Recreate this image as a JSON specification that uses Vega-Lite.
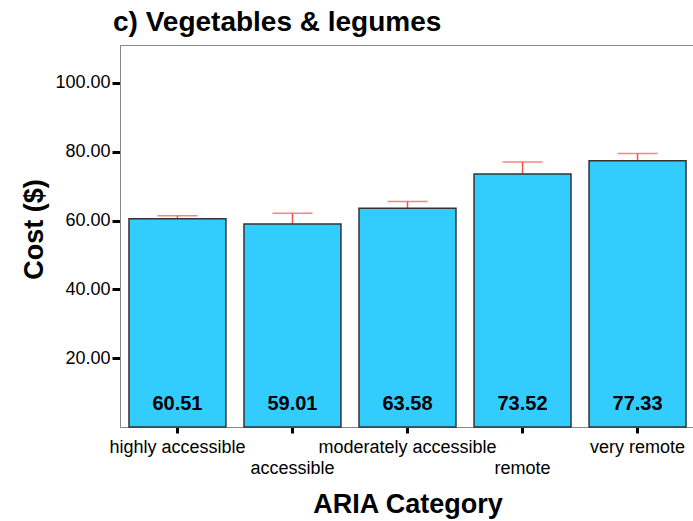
{
  "$schema": "https://vega.github.io/schema/vega-lite/v6.json",
  "autosize": "none",
  "width": 575,
  "height": 382,
  "padding": {"left": 120, "top": 45, "right": 0, "bottom": 94},
  "background": "white",
  "config": {
    "font": "Liberation Sans",
    "view": {"stroke": "#888888", "strokeWidth": 1}
  },
  "title": {
    "text": "c) Vegetables & legumes",
    "font": "Liberation Sans",
    "fontSize": 28,
    "fontWeight": "bold",
    "anchor": "start",
    "frame": "group",
    "dx": -7,
    "offset": 8,
    "color": "black"
  },
  "data": {
    "values": [
      {"category": "highly accessible", "cost": 60.51, "upper": 61.4},
      {"category": "accessible", "cost": 59.01, "upper": 62.1},
      {"category": "moderately accessible", "cost": 63.58, "upper": 65.5},
      {"category": "remote", "cost": 73.52, "upper": 77.0},
      {"category": "very remote", "cost": 77.33, "upper": 79.5}
    ]
  },
  "encoding": {
    "x": {
      "field": "category",
      "type": "nominal",
      "sort": null,
      "scale": {"paddingInner": 0.157, "paddingOuter": 0.078},
      "axis": {
        "title": "ARIA Category",
        "titleFont": "Liberation Sans",
        "titleFontSize": 27,
        "titleFontWeight": "bold",
        "titleColor": "black",
        "titlePadding": 14,
        "labelAngle": 0,
        "labelFont": "Liberation Sans",
        "labelFontSize": 18,
        "labelColor": "black",
        "labelPadding": 5,
        "labelLineHeight": 21,
        "labelExpr": "datum.value == 'accessible' || datum.value == 'remote' ? ['', datum.label] : datum.label",
        "tickSize": 6,
        "tickWidth": 3,
        "tickColor": "black",
        "domainColor": "#888888",
        "domainWidth": 1,
        "labelOverlap": false
      }
    }
  },
  "layer": [
    {
      "mark": {"type": "rule", "color": "#ff4d4d", "strokeWidth": 1.5},
      "encoding": {
        "y": {"field": "cost", "type": "quantitative"},
        "y2": {"field": "upper"}
      }
    },
    {
      "mark": {"type": "tick", "color": "#ff4d4d", "size": 40, "thickness": 1.5},
      "encoding": {
        "y": {"field": "upper", "type": "quantitative"}
      }
    },
    {
      "mark": {"type": "bar", "fill": "#33ccff", "stroke": "#333333", "strokeWidth": 1.5},
      "encoding": {
        "y": {
          "field": "cost",
          "type": "quantitative",
          "scale": {"domain": [0, 111], "nice": false},
          "axis": {
            "title": "Cost ($)",
            "titleFont": "Liberation Sans",
            "titleFontSize": 27,
            "titleFontWeight": "bold",
            "titleColor": "black",
            "titlePadding": 6,
            "titleY": 184,
            "values": [20, 40, 60, 80, 100],
            "format": ".2f",
            "labelFont": "Liberation Sans",
            "labelFontSize": 18,
            "labelColor": "black",
            "labelPadding": 2,
            "tickSize": 8,
            "tickWidth": 3,
            "tickColor": "black",
            "domainColor": "#888888",
            "domainWidth": 1,
            "grid": false
          }
        }
      }
    },
    {
      "mark": {"type": "text", "font": "Liberation Sans", "fontSize": 20, "fontWeight": "bold", "color": "black", "baseline": "middle", "dy": -23},
      "encoding": {
        "y": {"datum": 0},
        "text": {"field": "cost", "type": "quantitative", "format": ".2f"}
      }
    }
  ]
}
